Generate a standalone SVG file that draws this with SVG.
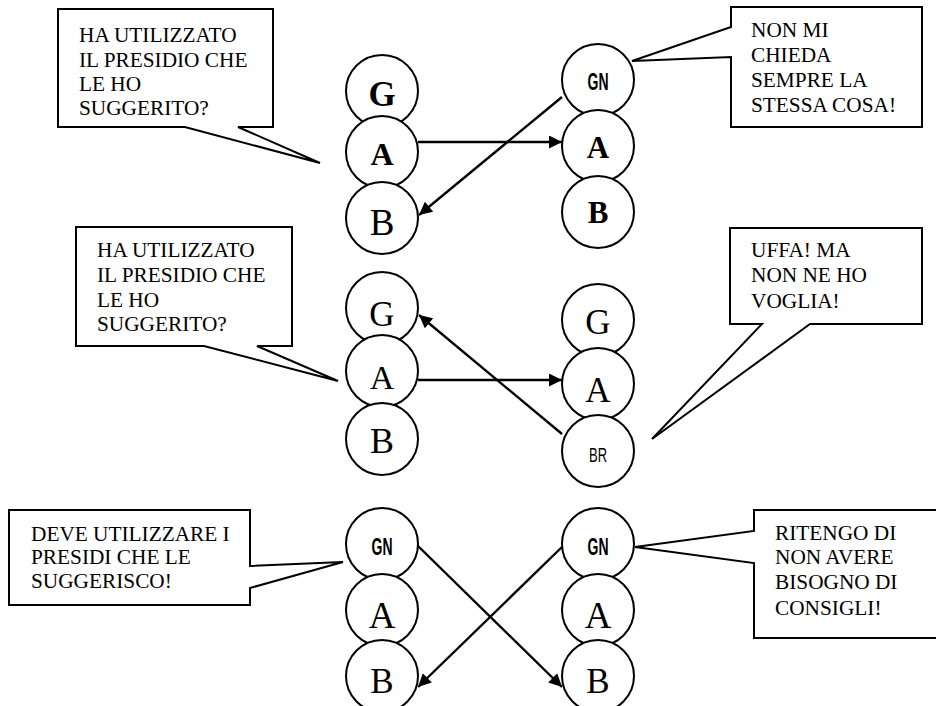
<svg xmlns="http://www.w3.org/2000/svg" width="936" height="706" viewBox="0 0 936 706">
<style>
.bubble{fill:#fff;stroke:#000;stroke-width:2;stroke-linejoin:miter}
.node circle{fill:#fff;stroke:#000;stroke-width:2}
.t{font-family:"Liberation Serif","Times New Roman",serif;font-size:21.3px;fill:#000}
.l{font-family:"Liberation Serif","Times New Roman",serif;fill:#000;text-anchor:middle}
.b{font-weight:bold}
.cn{font-family:"Liberation Sans Narrow","Liberation Sans","Arial",sans-serif;fill:#000;text-anchor:middle}
.gn{font-weight:bold}
.conn line{stroke:#000;stroke-width:2.4;marker-end:url(#ah)}
</style>
<defs>
<marker id="ah" viewBox="0 0 10 10" refX="10" refY="5" markerUnits="userSpaceOnUse" markerWidth="16" markerHeight="13" orient="auto">
<path d="M0,0 L10,5 L0,10 Z" fill="#000"/>
</marker>
</defs>

<!-- callouts -->
<g id="callout1">
<path class="bubble" d="M58,9 H273 V127 H238 L320,163 L185,127 H58 Z"/>
<text class="t" x="79" y="42">HA UTILIZZATO</text>
<text class="t" x="79" y="67">IL PRESIDIO CHE</text>
<text class="t" x="79" y="91">LE HO</text>
<text class="t" x="79" y="115">SUGGERITO?</text>
</g>
<g id="callout2">
<path class="bubble" d="M731,7 H922 V127 H731 V57 L632,61 L731,27 Z"/>
<text class="t" x="751" y="37">NON MI</text>
<text class="t" x="751" y="62">CHIEDA</text>
<text class="t" x="751" y="87">SEMPRE LA</text>
<text class="t" x="751" y="112">STESSA COSA!</text>
</g>
<g id="callout3">
<path class="bubble" d="M76,227 H292 V346 H257 L338,381 L204,346 H76 Z"/>
<text class="t" x="97" y="257">HA UTILIZZATO</text>
<text class="t" x="97" y="282">IL PRESIDIO CHE</text>
<text class="t" x="97" y="307">LE HO</text>
<text class="t" x="97" y="331">SUGGERITO?</text>
</g>
<g id="callout4">
<path class="bubble" d="M730,228 H922 V324 H810 L652,439 L762,324 H730 Z"/>
<text class="t" x="751" y="257">UFFA! MA</text>
<text class="t" x="751" y="282">NON NE HO</text>
<text class="t" x="751" y="308">VOGLIA!</text>
</g>
<g id="callout5">
<path class="bubble" d="M9,510 H250 V566 L343,562 L250,588 V605 H9 Z"/>
<text class="t" x="31" y="541">DEVE UTILIZZARE I</text>
<text class="t" x="31" y="564">PRESIDI CHE LE</text>
<text class="t" x="31" y="588">SUGGERISCO!</text>
</g>
<g id="callout6">
<path class="bubble" d="M754,510 H942 V638 H754 V563 L635,547 L754,531 Z"/>
<text class="t" x="775" y="540">RITENGO DI</text>
<text class="t" x="775" y="564">NON AVERE</text>
<text class="t" x="775" y="589">BISOGNO DI</text>
<text class="t" x="775" y="615">CONSIGLI!</text>
</g>

<!-- scene 1 -->
<g id="s1-left-G" class="node"><circle cx="382" cy="91" r="36"/><text class="l b" x="382" y="106" font-size="35">G</text></g>
<g id="s1-left-A" class="node"><circle cx="382" cy="152" r="36"/><text class="l b" x="382" y="165" font-size="32">A</text></g>
<g id="s1-left-B" class="node"><circle cx="382" cy="218" r="36"/><text class="l" x="382" y="235" font-size="37">B</text></g>
<g id="s1-right-GN" class="node"><circle cx="598" cy="80" r="36"/><text class="cn gn" x="598" y="90" font-size="24" textLength="21" lengthAdjust="spacingAndGlyphs">GN</text></g>
<g id="s1-right-A" class="node"><circle cx="598" cy="146" r="36"/><text class="l b" x="598" y="158" font-size="31">A</text></g>
<g id="s1-right-B" class="node"><circle cx="598" cy="212" r="36"/><text class="l b" x="598" y="223" font-size="31">B</text></g>

<!-- scene 2 -->
<g id="s2-left-G" class="node"><circle cx="382" cy="308" r="36"/><text class="l" x="382" y="326" font-size="35">G</text></g>
<g id="s2-left-A" class="node"><circle cx="382" cy="371" r="36"/><text class="l" x="382" y="389" font-size="34">A</text></g>
<g id="s2-left-B" class="node"><circle cx="382" cy="439" r="36"/><text class="l" x="382" y="453" font-size="36">B</text></g>
<g id="s2-right-G" class="node"><circle cx="598" cy="320" r="36"/><text class="l" x="598" y="334" font-size="35">G</text></g>
<g id="s2-right-A" class="node"><circle cx="598" cy="384" r="36"/><text class="l" x="598" y="402" font-size="35">A</text></g>
<g id="s2-right-BR" class="node"><circle cx="598" cy="451" r="36"/><text class="cn" x="598" y="462" font-size="21" textLength="18" lengthAdjust="spacingAndGlyphs">BR</text></g>

<!-- scene 3 -->
<g id="s3-left-GN" class="node"><circle cx="382" cy="544" r="36"/><text class="cn gn" x="382" y="555" font-size="24" textLength="21" lengthAdjust="spacingAndGlyphs">GN</text></g>
<g id="s3-left-A" class="node"><circle cx="382" cy="610" r="36"/><text class="l" x="382" y="628" font-size="37">A</text></g>
<g id="s3-left-B" class="node"><circle cx="382" cy="676" r="36"/><text class="l" x="382" y="693" font-size="35">B</text></g>
<g id="s3-right-GN" class="node"><circle cx="598" cy="544" r="36"/><text class="cn gn" x="598" y="555" font-size="24" textLength="21" lengthAdjust="spacingAndGlyphs">GN</text></g>
<g id="s3-right-A" class="node"><circle cx="598" cy="610" r="36"/><text class="l" x="598" y="628" font-size="37">A</text></g>
<g id="s3-right-B" class="node"><circle cx="598" cy="676" r="36"/><text class="l" x="598" y="693" font-size="35">B</text></g>

<!-- connectors -->
<g id="connectors" class="conn">
<line x1="418" y1="142" x2="562" y2="142"/>
<line x1="562" y1="97" x2="419" y2="215"/>
<line x1="418" y1="380" x2="562" y2="380"/>
<line x1="562" y1="434" x2="419" y2="315"/>
<line x1="418" y1="546" x2="562" y2="687"/>
<line x1="562" y1="547" x2="418" y2="687"/>
</g>
</svg>
